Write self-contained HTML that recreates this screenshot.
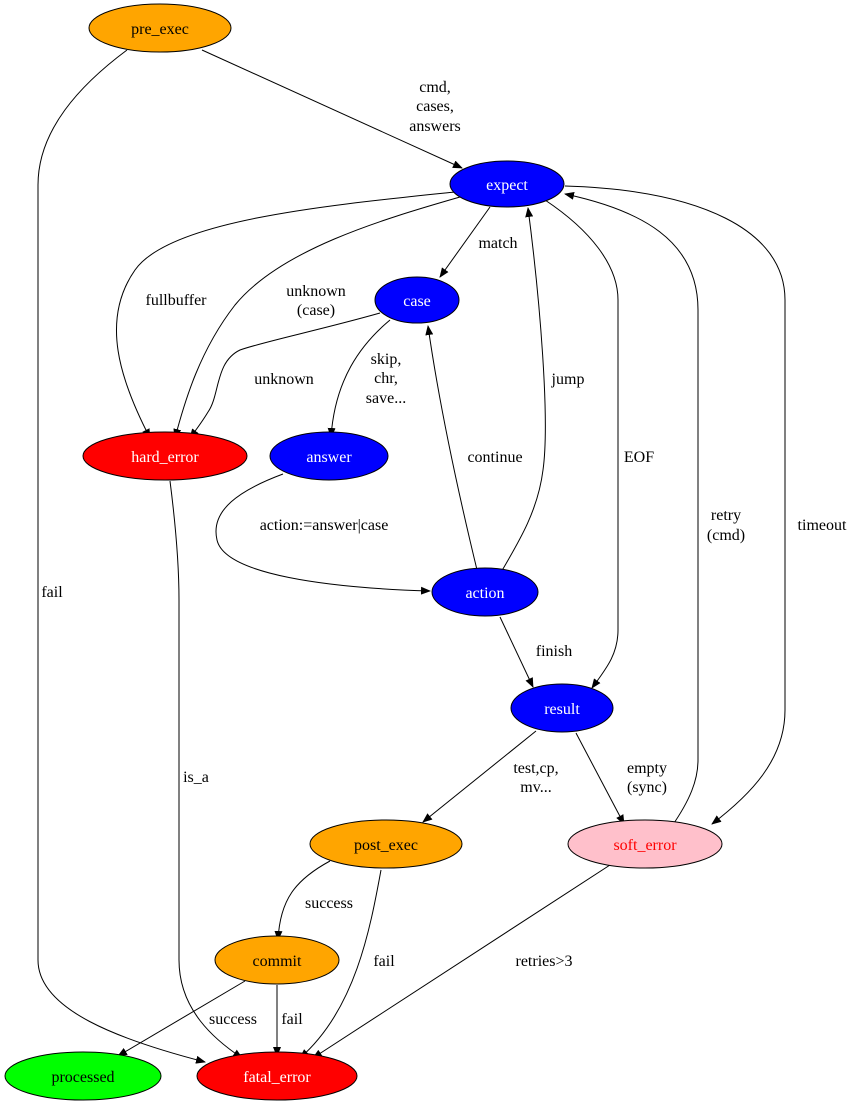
<!DOCTYPE html>
<html><head><meta charset="utf-8"><style>
html,body{margin:0;padding:0;background:#fff;}
svg{display:block;}
text{font-family:"Liberation Serif",serif;font-size:16px;text-anchor:middle;}
</style></head><body>
<svg width="865" height="1107" viewBox="0 0 865 1107" xmlns="http://www.w3.org/2000/svg">
<defs><marker id="a" markerWidth="10" markerHeight="8" refX="9" refY="4" orient="auto" markerUnits="userSpaceOnUse"><path d="M0,0 L10,4 L0,8 z" fill="#000"/></marker></defs>
<g fill="none" stroke="#000" stroke-width="1" marker-end="url(#a)">
<path d="M202,50 L462,168"/>
<path d="M127,50 C80,85 38,130 38,185 L38,960 C38,1010 120,1040 205,1062"/>
<path d="M455,192 C330,205 170,220 135,270 C100,320 120,380 150,438"/>
<path d="M460,197 C380,220 280,250 235,305 C200,350 185,400 175,438"/>
<path d="M490,207 L440,277"/>
<path d="M380,313 C320,330 262,342 240,350 C215,362 220,395 208,412 C202,422 196,430 190,438"/>
<path d="M390,320 C360,345 335,380 331,437"/>
<path d="M478,574 C460,500 440,410 428,326"/>
<path d="M500,574 C520,540 538,510 543,470 C550,420 540,300 528,208"/>
<path d="M545,200 C590,230 618,265 618,300 L618,630 C618,655 605,670 592,688"/>
<path d="M283,474 C240,490 210,510 217,540 C225,575 330,588 430,591"/>
<path d="M500,617 L533,687"/>
<path d="M565,186 C700,190 785,230 785,300 L785,710 C785,760 750,795 712,824"/>
<path d="M672,826 C690,800 698,780 698,760 L698,310 C698,240 640,210 565,194"/>
<path d="M536,731 L423,822"/>
<path d="M576,733 L624,824"/>
<path d="M170,481 C175,520 179,560 179,600 L179,960 C179,1010 215,1040 242,1058"/>
<path d="M330,861 C295,880 280,900 278,940"/>
<path d="M381,870 C370,930 355,1010 300,1058"/>
<path d="M610,865 L313,1058"/>
<path d="M245,981 L118,1056"/>
<path d="M277,985 L277,1056"/>
</g>
<g stroke="#000" stroke-width="1">
<ellipse cx="160" cy="28" rx="71" ry="24" fill="orange"/>
<ellipse cx="507" cy="184" rx="57" ry="23" fill="blue"/>
<ellipse cx="417" cy="300" rx="42" ry="23" fill="blue"/>
<ellipse cx="165" cy="456" rx="82" ry="24" fill="red"/>
<ellipse cx="329" cy="456" rx="59" ry="24" fill="blue"/>
<ellipse cx="485" cy="592" rx="53" ry="24" fill="blue"/>
<ellipse cx="562" cy="708" rx="51" ry="24" fill="blue"/>
<ellipse cx="386" cy="844" rx="76" ry="24" fill="orange"/>
<ellipse cx="645" cy="844" rx="77" ry="24" fill="pink"/>
<ellipse cx="277" cy="960" rx="62" ry="24" fill="orange"/>
<ellipse cx="83" cy="1076" rx="78" ry="24" fill="#00ff00"/>
<ellipse cx="277" cy="1076" rx="80" ry="24" fill="red"/>
</g>
<text x="160" y="34">pre_exec</text>
<text x="507" y="190" fill="#fff">expect</text>
<text x="417" y="306" fill="#fff">case</text>
<text x="165" y="462" fill="#fff">hard_error</text>
<text x="329" y="462" fill="#fff">answer</text>
<text x="485" y="598" fill="#fff">action</text>
<text x="562" y="714" fill="#fff">result</text>
<text x="386" y="850">post_exec</text>
<text x="645" y="850" fill="red">soft_error</text>
<text x="277" y="966">commit</text>
<text x="83" y="1082">processed</text>
<text x="277" y="1082" fill="#fff">fatal_error</text>
<text x="435" y="92">cmd,</text><text x="435" y="111">cases,</text><text x="435" y="131">answers</text>
<text x="52" y="597">fail</text>
<text x="176" y="305">fullbuffer</text>
<text x="316" y="296">unknown</text><text x="316" y="315">(case)</text>
<text x="498" y="248">match</text>
<text x="284" y="384">unknown</text>
<text x="386" y="364">skip,</text><text x="386" y="383">chr,</text><text x="386" y="403">save...</text>
<text x="495" y="462">continue</text>
<text x="568" y="384">jump</text>
<text x="639" y="462">EOF</text>
<text x="324" y="530">action:=answer|case</text>
<text x="554" y="656">finish</text>
<text x="822" y="530">timeout</text>
<text x="726" y="520">retry</text><text x="726" y="540">(cmd)</text>
<text x="536" y="773">test,cp,</text><text x="536" y="792">mv...</text>
<text x="647" y="773">empty</text><text x="647" y="792">(sync)</text>
<text x="196" y="782">is_a</text>
<text x="329" y="908">success</text>
<text x="384" y="966">fail</text>
<text x="544" y="966">retries&gt;3</text>
<text x="233" y="1024">success</text>
<text x="292" y="1024">fail</text>
</svg>
</body></html>
